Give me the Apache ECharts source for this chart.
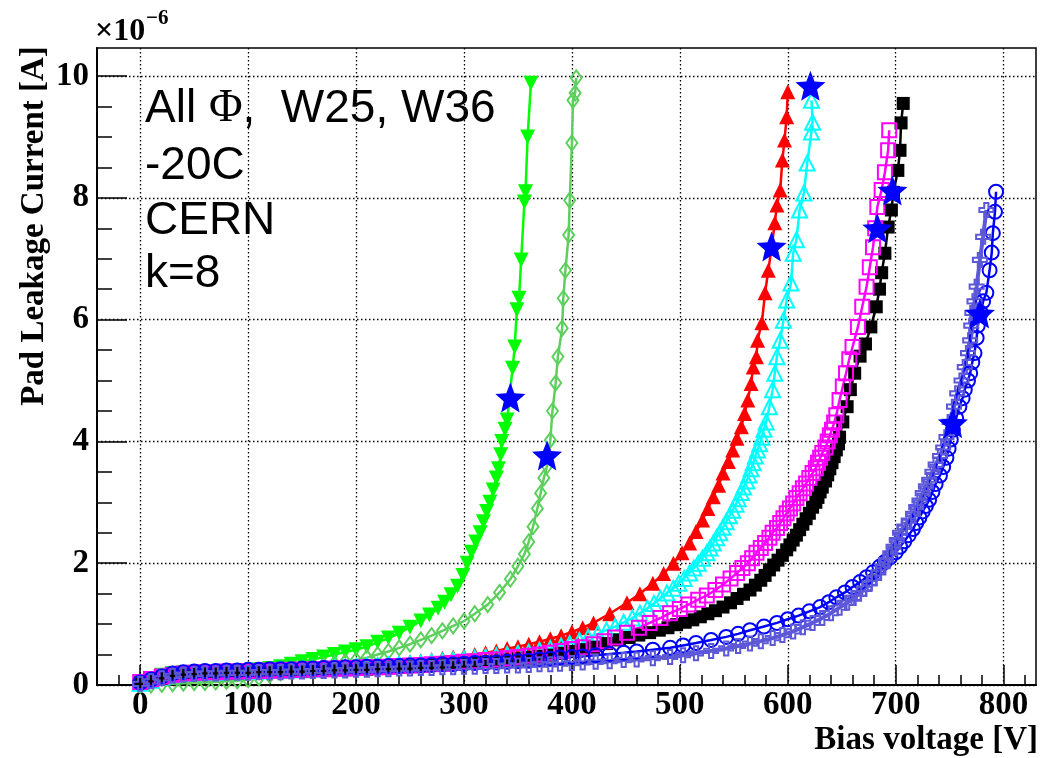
<!DOCTYPE html>
<html><head><meta charset="utf-8">
<script src="https://cdn.jsdelivr.net/npm/echarts@6/dist/echarts.min.js"></script>
<style>html,body{margin:0;padding:0;background:#fff}#c{width:1040px;height:758px}</style>
</head><body><div id="c"></div>
<script>
// ---- tick positions (data units) ----
const xMajorTicks = [0,100,200,300,400,500,600,700,800];
const yMajorTicks = [0,2,4,6,8,10];

// ---- series: [bias voltage V, current 1e-6 A] ----
const greenTri = [[0,0.05],[10,0.1],[20,0.16],[30,0.19],[40,0.2],[50,0.21],[60,0.21],[70,0.22],[80,0.22],[90,0.22],[100,0.23],[110,0.25],[120,0.27],[130,0.3],[140,0.34],[150,0.38],[160,0.42],[170,0.46],[180,0.5],[190,0.54],[200,0.58],[210,0.63],[220,0.7],[230,0.77],[240,0.85],[250,0.95],[260,1.05],[268,1.15],[276,1.26],[282,1.36],[288,1.48],[294,1.62],[299,1.8],[303,2.0],[307,2.18],[311,2.35],[315,2.5],[318,2.68],[321,2.85],[324,3.0],[327,3.2],[330,3.4],[332,3.55],[334,3.78],[335,4.0],[338,4.2],[340,4.35],[345,5.2],[347,5.55],[349,6.16],[351,6.35],[353,6.98],[356,7.93],[357,8.1],[359,9.0],[362,9.88]];
const lightGreenDia = [[0,0.0],[10,0.0],[20,0.01],[30,0.02],[40,0.03],[50,0.04],[60,0.04],[70,0.05],[80,0.06],[90,0.07],[100,0.09],[110,0.12],[120,0.16],[130,0.2],[140,0.23],[150,0.26],[160,0.29],[170,0.32],[180,0.35],[190,0.38],[200,0.41],[210,0.45],[220,0.5],[230,0.55],[240,0.61],[250,0.67],[260,0.74],[270,0.81],[280,0.89],[290,0.97],[300,1.05],[310,1.17],[322,1.32],[333,1.52],[343,1.74],[350,1.95],[356,2.15],[360,2.35],[364,2.6],[368,2.9],[371,3.15],[374,3.4],[377,3.6],[380,4.02],[382,4.5],[385,4.96],[387,5.39],[391,5.86],[392,6.35],[394,6.81],[397,7.39],[398,7.96],[400,8.9],[401,9.6],[403,9.72],[404,9.97]];
const redTri = [[0,0.03],[10,0.08],[20,0.13],[30,0.17],[40,0.19],[50,0.2],[60,0.21],[70,0.22],[80,0.22],[90,0.23],[100,0.23],[110,0.24],[120,0.24],[130,0.25],[140,0.25],[150,0.26],[160,0.27],[170,0.28],[180,0.29],[190,0.3],[200,0.31],[210,0.32],[220,0.34],[230,0.35],[240,0.37],[250,0.38],[260,0.4],[270,0.42],[280,0.44],[290,0.46],[300,0.48],[310,0.5],[320,0.53],[330,0.56],[340,0.6],[350,0.63],[360,0.67],[370,0.71],[380,0.76],[390,0.81],[400,0.87],[410,0.94],[420,1.02],[435,1.17],[451,1.35],[463,1.5],[475,1.67],[485,1.83],[494,2.0],[502,2.17],[509,2.33],[515,2.52],[521,2.71],[526,2.9],[531,3.09],[536,3.28],[540,3.48],[545,3.67],[549,3.86],[553,4.05],[557,4.24],[560,4.46],[563,4.68],[566,4.95],[568,5.22],[571,5.39],[572,5.66],[576,5.95],[579,6.44],[582,6.81],[585,7.18],[588,7.59],[590,7.88],[593,8.13],[595,8.62],[597,8.95],[599,9.33],[600,9.74]];
const cyanTri = [[0,0.03],[10,0.08],[20,0.13],[30,0.17],[40,0.19],[50,0.2],[60,0.21],[70,0.21],[80,0.22],[90,0.22],[100,0.23],[110,0.23],[120,0.24],[130,0.24],[140,0.25],[150,0.25],[160,0.26],[170,0.27],[180,0.28],[190,0.29],[200,0.3],[210,0.31],[220,0.32],[230,0.33],[240,0.34],[250,0.35],[260,0.36],[270,0.38],[280,0.39],[290,0.41],[300,0.43],[310,0.44],[320,0.46],[330,0.48],[340,0.5],[350,0.52],[360,0.54],[370,0.57],[380,0.6],[390,0.64],[398,0.68],[407,0.73],[415,0.78],[424,0.84],[432,0.9],[440,0.96],[448,1.03],[456,1.1],[463,1.18],[470,1.26],[476,1.34],[482,1.42],[488,1.51],[494,1.59],[499,1.67],[504,1.75],[509,1.84],[513,1.92],[517,2.0],[521,2.08],[525,2.17],[528,2.25],[531,2.33],[534,2.42],[537,2.5],[540,2.59],[543,2.68],[546,2.78],[549,2.87],[552,2.97],[554,3.06],[557,3.16],[559,3.25],[562,3.35],[564,3.45],[566,3.55],[568,3.65],[570,3.76],[572,3.86],[574,3.96],[576,4.07],[578,4.2],[580,4.32],[583,4.57],[586,4.85],[588,5.12],[590,5.39],[593,5.66],[596,5.99],[599,6.32],[603,6.6],[605,7.09],[608,7.31],[611,7.8],[615,8.08],[618,8.57],[622,9.08],[623,9.24],[622,9.6]];
const blackSq = [[0,0.03],[10,0.07],[20,0.11],[30,0.15],[40,0.17],[50,0.18],[60,0.19],[70,0.19],[80,0.2],[90,0.2],[100,0.21],[110,0.21],[120,0.22],[130,0.22],[140,0.23],[150,0.23],[160,0.24],[170,0.24],[180,0.25],[190,0.25],[200,0.26],[210,0.26],[220,0.27],[230,0.28],[240,0.29],[250,0.3],[260,0.31],[270,0.32],[280,0.33],[290,0.34],[300,0.35],[310,0.36],[320,0.38],[330,0.39],[340,0.41],[350,0.43],[360,0.45],[370,0.47],[380,0.49],[390,0.52],[400,0.55],[410,0.58],[420,0.62],[432,0.68],[444,0.74],[453,0.78],[462,0.82],[472,0.86],[481,0.9],[489,0.94],[497,0.99],[505,1.03],[512,1.07],[519,1.12],[526,1.17],[533,1.22],[540,1.28],[547,1.35],[553,1.42],[559,1.49],[565,1.56],[570,1.64],[575,1.72],[579,1.8],[583,1.89],[587,1.97],[591,2.05],[595,2.13],[599,2.22],[602,2.3],[605,2.38],[608,2.46],[611,2.55],[614,2.64],[617,2.73],[620,2.82],[623,2.92],[626,3.0],[628,3.08],[630,3.17],[632,3.25],[635,3.35],[637,3.45],[639,3.55],[641,3.65],[643,3.75],[645,3.86],[647,3.96],[648,4.07],[651,4.32],[655,4.57],[658,4.85],[662,5.12],[667,5.4],[672,5.6],[677,5.88],[682,6.21],[685,6.5],[687,6.77],[690,7.09],[693,7.52],[696,7.8],[698,8.09],[702,8.45],[704,8.78],[705,9.23],[707,9.55]];
const magentaSq = [[0,0.05],[10,0.1],[20,0.14],[30,0.17],[40,0.19],[50,0.2],[60,0.21],[70,0.21],[80,0.22],[90,0.22],[100,0.23],[110,0.23],[120,0.24],[130,0.24],[140,0.25],[150,0.25],[160,0.26],[170,0.26],[180,0.27],[190,0.27],[200,0.28],[210,0.29],[220,0.29],[230,0.3],[240,0.31],[250,0.32],[260,0.33],[270,0.34],[280,0.35],[290,0.36],[300,0.38],[310,0.39],[320,0.41],[330,0.42],[340,0.44],[350,0.46],[360,0.48],[370,0.5],[380,0.53],[390,0.56],[400,0.59],[410,0.62],[420,0.67],[430,0.72],[440,0.78],[451,0.86],[462,0.94],[472,1.02],[482,1.1],[491,1.18],[500,1.25],[508,1.32],[517,1.4],[525,1.47],[533,1.56],[540,1.65],[547,1.75],[553,1.84],[558,1.92],[563,2.0],[567,2.08],[571,2.17],[575,2.25],[579,2.33],[583,2.42],[586,2.5],[590,2.58],[593,2.66],[596,2.74],[599,2.82],[602,2.9],[605,2.98],[608,3.07],[611,3.15],[614,3.23],[617,3.31],[620,3.4],[623,3.48],[626,3.56],[628,3.65],[630,3.73],[632,3.81],[635,3.9],[637,4.0],[639,4.1],[641,4.19],[643,4.31],[645,4.43],[648,4.68],[651,4.9],[654,5.12],[657,5.35],[660,5.55],[665,5.88],[669,6.21],[673,6.54],[676,6.86],[679,7.19],[681,7.5],[683,7.85],[687,8.13],[690,8.42],[693,8.78],[694,9.11]];
const blueCirc = [[0,0.04],[10,0.09],[20,0.14],[30,0.19],[40,0.21],[50,0.22],[60,0.23],[70,0.23],[80,0.24],[90,0.24],[100,0.25],[110,0.25],[120,0.26],[130,0.26],[140,0.26],[150,0.27],[160,0.27],[170,0.28],[180,0.28],[190,0.29],[200,0.29],[210,0.3],[220,0.3],[230,0.31],[240,0.31],[250,0.32],[260,0.32],[270,0.33],[280,0.34],[290,0.34],[300,0.35],[310,0.36],[320,0.36],[330,0.37],[340,0.38],[350,0.39],[360,0.4],[370,0.42],[380,0.43],[389,0.45],[400,0.46],[410,0.47],[422,0.49],[435,0.51],[448,0.53],[460,0.55],[475,0.58],[491,0.61],[503,0.65],[515,0.69],[529,0.74],[543,0.79],[554,0.84],[565,0.9],[578,0.96],[590,1.02],[600,1.08],[610,1.14],[620,1.21],[630,1.28],[638,1.36],[645,1.44],[653,1.52],[660,1.61],[667,1.69],[673,1.77],[679,1.85],[685,1.94],[690,2.02],[695,2.1],[700,2.18],[704,2.27],[708,2.36],[712,2.46],[716,2.56],[719,2.66],[722,2.75],[725,2.85],[728,2.94],[731,3.04],[734,3.17],[737,3.3],[741,3.44],[744,3.58],[747,3.73],[749,3.88],[751,4.03],[753,4.19],[756,4.38],[759,4.57],[762,4.71],[764,4.85],[767,5.0],[769,5.12],[771,5.3],[773,5.45],[775,5.7],[776,5.9],[779,6.11],[781,6.3],[784,6.44],[787,6.81],[789,7.1],[790,7.42],[792,7.77],[793,8.1]];
const slateCross = [[0,0.02],[10,0.06],[20,0.11],[30,0.15],[40,0.17],[50,0.18],[60,0.19],[70,0.19],[80,0.2],[90,0.2],[100,0.2],[110,0.21],[120,0.21],[130,0.21],[140,0.22],[150,0.22],[160,0.23],[170,0.23],[180,0.24],[190,0.24],[200,0.25],[210,0.25],[220,0.26],[230,0.26],[240,0.27],[250,0.27],[260,0.28],[270,0.28],[280,0.29],[290,0.29],[300,0.3],[310,0.3],[320,0.31],[330,0.31],[340,0.32],[350,0.32],[360,0.33],[370,0.34],[380,0.34],[389,0.35],[400,0.36],[410,0.37],[422,0.38],[435,0.39],[448,0.41],[460,0.42],[475,0.44],[491,0.46],[503,0.49],[515,0.52],[529,0.56],[543,0.6],[554,0.64],[565,0.68],[575,0.72],[586,0.77],[595,0.82],[605,0.88],[614,0.95],[623,1.02],[632,1.1],[640,1.18],[648,1.27],[655,1.35],[661,1.43],[666,1.5],[671,1.58],[676,1.67],[680,1.76],[684,1.85],[688,1.95],[691,2.05],[695,2.16],[698,2.27],[701,2.38],[704,2.5],[708,2.6],[712,2.7],[716,2.81],[719,2.92],[722,3.03],[725,3.15],[728,3.26],[731,3.37],[734,3.5],[737,3.62],[741,3.76],[744,3.9],[747,4.07],[750,4.32],[754,4.57],[757,4.79],[761,5.0],[764,5.22],[767,5.45],[769,5.66],[770,5.9],[771,6.11],[773,6.3],[775,6.54],[778,6.98],[781,7.36],[784,7.8]];
const starPoints = [[343,4.72],[377,3.77],[585,7.2],[621,9.84],[683,7.5],[697,8.12],[753,4.3],[778,6.1]];

// ---- derived minor tick positions ----
const xMinorTicks = [];
for (let v = -20; v < 830; v += 20) if (v % 100 !== 0) xMinorTicks.push(v);
const yMinorTicks = [];
for (let v = 0.5; v < 10.46; v += 0.5) if (v % 2 !== 0) yMinorTicks.push(v);

const STAR = 'path://M50 0 L62.93 32.2 L97.55 34.55 L70.92 56.8 L79.39 90.45 L50 72 L20.61 90.45 L29.08 56.8 L2.45 34.55 L37.07 32.2 Z';
const CROSS = 'path://M35 0 L65 0 L65 35 L100 35 L100 65 L65 65 L65 100 L35 100 L35 65 L0 65 L0 35 L35 35 Z';

function mk(name, data, color, symbol, size, filled, rotate, lw) {
  return {
    name, type: 'line', data, symbol, symbolSize: size, symbolRotate: rotate || 0,
    showSymbol: true, showAllSymbol: true, silent: true, animation: false,
    lineStyle: { color, width: lw || 2.5 },
    itemStyle: filled ? { color, borderWidth: 0, opacity: 1 } : { color: 'rgba(0,0,0,0)', borderColor: color, borderWidth: 2, opacity: 1 },
    emphasis: { disabled: true }
  };
}

const serifBold = '"Liberation Serif", "Times New Roman", serif';
const labelStyle = { fontFamily: serifBold, fontWeight: 'bold', fontSize: 33, color: '#000' };

const chart = echarts.init(document.getElementById('c'), null, { renderer: 'canvas' });
chart.setOption({
  backgroundColor: '#fff',
  animation: false,
  grid: { left: 97, right: 4, top: 48, bottom: 73, show: true, borderColor: '#000', borderWidth: 1.5, backgroundColor: 'rgba(0,0,0,0)' },
  xAxis: [
    { type: 'value', min: -40, max: 830, position: 'bottom',
      axisLine: { show: true, onZero: false, lineStyle: { color: '#000', width: 2 } },
      axisTick: { show: true, inside: true, length: 20, customValues: xMajorTicks, lineStyle: { color: '#000', width: 1.5 } },
      axisLabel: Object.assign({ customValues: xMajorTicks, margin: 4 }, labelStyle),
      splitLine: { show: true, lineStyle: { color: '#000', width: 1.3, type: [1.5, 2.5] } } },
    { type: 'value', min: -40, max: 830, position: 'bottom', offset: 0,
      axisLine: { show: false, onZero: false },
      axisTick: { show: true, inside: true, length: 10, customValues: xMinorTicks, lineStyle: { color: '#000', width: 1.5 } },
      axisLabel: { show: false }, splitLine: { show: false } }
  ],
  yAxis: [
    { type: 'value', min: 0, max: 10.46, position: 'left',
      axisLine: { show: true, onZero: false, lineStyle: { color: '#000', width: 2 } },
      axisTick: { show: true, inside: true, length: 30, customValues: yMajorTicks, lineStyle: { color: '#000', width: 1.5 } },
      axisLabel: Object.assign({ customValues: yMajorTicks, margin: 8 }, labelStyle),
      splitLine: { show: true, lineStyle: { color: '#000', width: 1.3, type: [1.5, 2.5] } } },
    { type: 'value', min: 0, max: 10.46, position: 'left', offset: 0,
      axisLine: { show: false, onZero: false },
      axisTick: { show: true, inside: true, length: 15, customValues: yMinorTicks, lineStyle: { color: '#000', width: 1.5 } },
      axisLabel: { show: false }, splitLine: { show: false } }
  ],
  series: [
    mk('green', greenTri, '#00ff00', 'triangle', 15, true, 180),
    mk('lightgreen', lightGreenDia, '#5ccf5c', 'diamond', [11, 15], false),
    mk('red', redTri, '#ff0000', 'triangle', 15, true),
    mk('cyan', cyanTri, '#00ffff', 'triangle', 15, false),
    mk('black', blackSq, '#000000', 'rect', 13, true),
    mk('magenta', magentaSq, '#ff00ff', 'rect', 14, false),
    mk('blue', blueCirc, '#0000ff', 'circle', 14, false),
    mk('slate', slateCross, '#5c58d8', CROSS, 14, false, 0, 4),
    { name: 'stars', type: 'scatter', data: starPoints, symbol: STAR, symbolSize: 30, silent: true,
      itemStyle: { color: '#0000ff', opacity: 1 }, emphasis: { disabled: true }, z: 5 }
  ],
  graphic: [
    { type: 'text', x: 95, y: 32, style: { text: '×10', font: 'bold 32px ' + serifBold, fill: '#000', textAlign: 'left', textVerticalAlign: 'middle' } },
    { type: 'text', x: 146, y: 19, style: { text: '−6', font: 'bold 21px ' + serifBold, fill: '#000', textAlign: 'left', textVerticalAlign: 'middle' } },
    { type: 'text', x: 34, y: 226, rotation: Math.PI / 2, style: { text: 'Pad Leakage Current [A]', font: 'bold 33px ' + serifBold, fill: '#000', textAlign: 'center', textVerticalAlign: 'middle' } },
    { type: 'text', x: 1038, y: 740, style: { text: 'Bias voltage [V]', font: 'bold 33px ' + serifBold, fill: '#000', textAlign: 'right', textVerticalAlign: 'middle' } },
    { type: 'text', x: 145, y: 109, z: 10, style: { text: '{a|All }{p|Φ}{a|,  W25, W36}', fill: '#000', textAlign: 'left', textVerticalAlign: 'middle',
        rich: { a: { font: '46px "Liberation Sans", Arial, sans-serif', fill: '#000' }, p: { font: '46px "Liberation Serif", serif', fill: '#000' } } } },
    { type: 'text', x: 145, y: 166, z: 10, style: { text: '-20C', font: '46px "Liberation Sans", Arial, sans-serif', fill: '#000', textAlign: 'left', textVerticalAlign: 'middle' } },
    { type: 'text', x: 145, y: 221, z: 10, style: { text: 'CERN', font: '46px "Liberation Sans", Arial, sans-serif', fill: '#000', textAlign: 'left', textVerticalAlign: 'middle' } },
    { type: 'text', x: 145, y: 274, z: 10, style: { text: 'k=8', font: '46px "Liberation Sans", Arial, sans-serif', fill: '#000', textAlign: 'left', textVerticalAlign: 'middle' } }
  ]
});
</script>
</body></html>
